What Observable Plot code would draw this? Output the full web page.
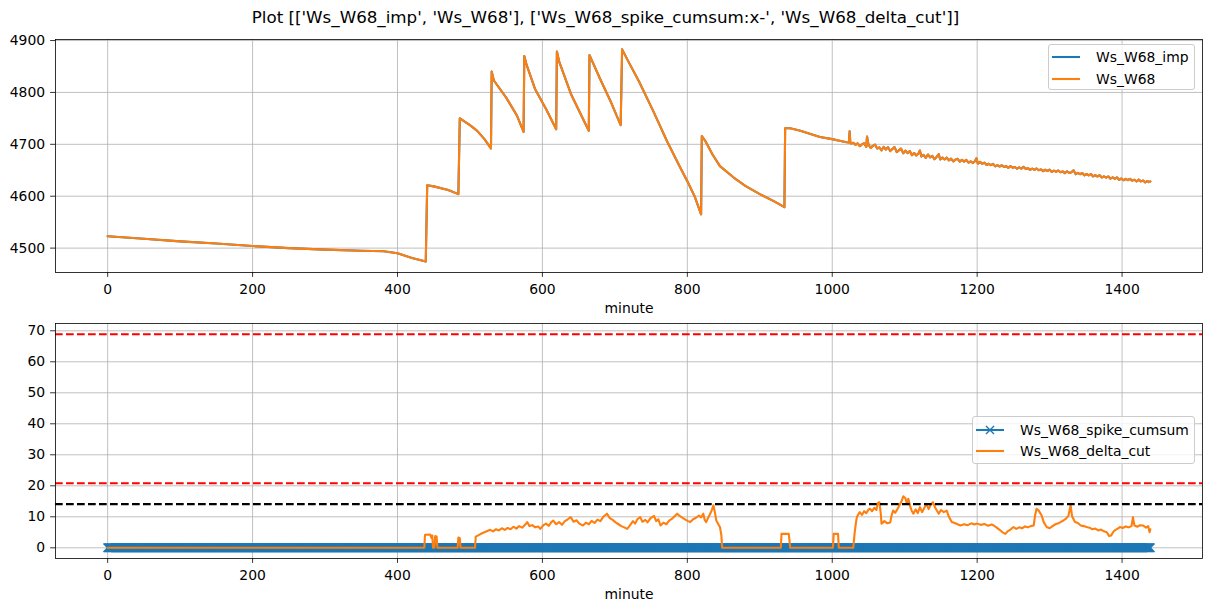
<!DOCTYPE html>
<html>
<head>
<meta charset="utf-8">
<script src="https://cdn.jsdelivr.net/npm/d3@7"></script>
<script src="https://cdn.jsdelivr.net/npm/@observablehq/plot@0.6"></script>
<style>
  html, body { margin: 0; padding: 0; background: white; }
  #fig { position: relative; width: 1211px; height: 611px; font-family: "DejaVu Sans", sans-serif; color: black; overflow: hidden; }
  #title { position: absolute; left: 0; top: 0; width: 1211px; height: 34px; line-height: 34px; text-align: center; font-size: 16.7px; }
  .panel { position: absolute; left: 0; }
  .legend { position: absolute; background: rgba(255,255,255,0.8); border: 1px solid #cccccc; border-radius: 3px; box-sizing: border-box; font-size: 13.9px; }
  .legend .row { position: absolute; left: 0; height: 20px; line-height: 20px; white-space: nowrap; }
  .legend .row span { position: absolute; left: 47px; top: 0; }
  .legend .row svg { position: absolute; left: 3px; top: 0; }
</style>
</head>
<body>
<div id="fig">
  <div id="title">Plot [['Ws_W68_imp', 'Ws_W68'], ['Ws_W68_spike_cumsum:x-', 'Ws_W68_delta_cut']]</div>
</div>
<script>
// ---------- data ----------
const xTicks = [0, 200, 400, 600, 800, 1000, 1200, 1400];
const topYTicks = [4500, 4600, 4700, 4800, 4900];
const bottomYTicks = [0, 10, 20, 30, 40, 50, 60, 70];

const topSeriesNames = ["Ws_W68_imp", "Ws_W68"];
const bottomSeriesNames = ["Ws_W68_spike_cumsum", "Ws_W68_delta_cut"];

// Ws_W68 (and identical Ws_W68_imp)
const wsMinutes = [0, 50, 100, 150, 200, 250, 300, 350, 381, 400, 420, 439,
  441, 450, 470, 484, 486, 500, 510, 520, 529, 530, 533, 550, 565, 574,
  575, 578, 590, 605, 619, 620, 623, 640, 664, 665, 680, 695, 708,
  710, 720, 733, 753, 772, 790, 800, 810, 819, 820, 825, 835, 845, 864, 880, 900, 920, 934,
  935, 942, 956, 983, 1000, 1010, 1020, 1023, 1024, 1025,
  1026, 1029, 1032, 1035, 1038, 1041, 1044, 1047, 1048, 1050, 1053, 1056, 1059, 1062, 1065, 1068,
  1071, 1074, 1077, 1080, 1083, 1086, 1089, 1092, 1095, 1098, 1101, 1104, 1107, 1110, 1113, 1116,
  1119, 1121, 1123, 1126, 1129, 1132, 1135, 1138, 1141, 1144, 1147, 1149, 1152, 1155, 1158, 1161,
  1164, 1167, 1170, 1173, 1176, 1179, 1182, 1185, 1188, 1191, 1194, 1197, 1199, 1201, 1204, 1207,
  1210, 1213, 1216, 1219, 1222, 1225, 1228, 1231, 1234, 1237, 1240, 1243, 1246, 1249, 1252, 1255,
  1258, 1261, 1264, 1267, 1270, 1273, 1276, 1279, 1282, 1285, 1288, 1291, 1294, 1297, 1300, 1303,
  1306, 1309, 1312, 1315, 1318, 1321, 1324, 1327, 1330, 1333, 1336, 1339, 1342, 1345, 1348, 1351,
  1354, 1357, 1360, 1363, 1366, 1369, 1372, 1375, 1378, 1381, 1384, 1387, 1390, 1393, 1396, 1399,
  1402, 1405, 1408, 1411, 1414, 1417, 1420, 1423, 1426, 1429, 1432, 1435, 1437, 1439];
const wsValues = [4523, 4518, 4513, 4509, 4504, 4500, 4497, 4495, 4494, 4490, 4481, 4474,
  4621, 4619, 4612, 4604, 4750, 4737, 4726, 4710, 4692, 4840, 4823, 4790, 4755, 4724,
  4870, 4854, 4806, 4768, 4729, 4879, 4860, 4795, 4726, 4872, 4825, 4780, 4737,
  4883, 4856, 4822, 4764, 4706, 4656, 4629, 4600, 4565, 4716, 4706, 4680, 4658, 4636, 4620, 4604, 4590, 4579,
  4731, 4731, 4726, 4714, 4710, 4707, 4704, 4703.5, 4725, 4703,
  4701.5, 4703, 4699, 4702, 4696.5, 4700, 4702, 4695, 4715, 4699.4, 4693, 4697, 4699.5, 4692, 4694, 4688.5,
  4695, 4690, 4694.5, 4687, 4691, 4694.6, 4685, 4688.3, 4691.7, 4682.8, 4688, 4683, 4687, 4679, 4683.3, 4678.4,
  4682.5, 4688, 4676.5, 4679.8, 4674, 4680.4, 4674.8, 4678, 4671.4, 4675.7, 4681, 4670.7, 4674.3, 4670.8, 4674.3, 4668.9,
  4672.4, 4667, 4670.5, 4672.1, 4666.6, 4670.2, 4666.7, 4670.2, 4664.8, 4667.3, 4663.9, 4667.4, 4673, 4662.8, 4666.1, 4662.5,
  4664.8, 4660.1, 4662.5, 4659.8, 4662.2, 4657.5, 4659.8, 4657.2, 4659.7, 4656.3, 4658, 4654.6, 4658.2, 4654.8, 4656.4, 4653,
  4655.6, 4653.2, 4656.8, 4652.4, 4654, 4650.7, 4653.3, 4650.9, 4653.5, 4650.1, 4651.7, 4648.3, 4651, 4648.6, 4651.2, 4646.8,
  4649.4, 4647, 4649.6, 4646.2, 4647.8, 4644.4, 4648.1, 4644.7, 4646.3, 4650, 4642.5, 4644.9, 4642.4, 4644.8, 4640.3, 4642.8,
  4640.2, 4642.7, 4638.1, 4640.6, 4638, 4640.5, 4636, 4638.4, 4635.9, 4638.3, 4633.8, 4636.2, 4633.7, 4636.2, 4631.6, 4634.1,
  4630.7, 4633.3, 4630.9, 4633.5, 4630.1, 4631.7, 4628.3, 4631.9, 4628.6, 4630.2, 4626.8, 4629.4, 4627.1, 4628.5];

// Ws_W68_delta_cut
const deltaMinutes = [0, 437, 438, 445, 447, 448, 449, 451, 452, 454, 455, 483, 484, 486, 487, 507,
  508, 512, 516, 520, 524, 528, 532, 536, 540, 544, 548, 552, 556, 560, 564, 568, 572, 576, 579, 582,
  586, 590, 594, 597, 601, 605, 609, 612, 615, 619, 623, 627, 631, 635, 639, 643, 647, 651, 656, 660,
  664, 668, 672, 676, 680, 684, 689, 693, 697, 701, 705, 709, 713, 717, 721, 725, 728, 731, 735, 738,
  742, 745, 749, 754, 757, 760, 763, 767, 771, 775, 779, 782, 786, 790, 794, 798, 801, 804, 808, 812,
  816, 819, 822, 824, 826, 829, 832, 834, 836, 838, 840, 843, 845, 847, 848,
  929, 930, 940, 942, 1001, 1002, 1008, 1009, 1029,
  1031, 1033, 1034, 1036, 1038, 1041, 1044, 1047, 1050, 1052, 1055, 1058, 1061, 1063, 1065, 1067, 1068,
  1072, 1076, 1080, 1082, 1084, 1087, 1090, 1093, 1096, 1098, 1101, 1103, 1105, 1108, 1110, 1112, 1115,
  1118, 1121, 1124, 1127, 1130, 1133, 1136, 1139, 1142, 1145, 1147, 1150, 1154, 1158, 1161, 1165, 1169,
  1173, 1177, 1182, 1187, 1192, 1196, 1200, 1205, 1210, 1215, 1220, 1223, 1227, 1231, 1235, 1239, 1242,
  1246, 1250, 1254, 1258, 1262, 1266, 1270, 1274, 1278, 1280, 1282, 1285, 1289, 1292, 1296, 1300, 1304,
  1308, 1312, 1315, 1319, 1323, 1326, 1329, 1331, 1335, 1339, 1343, 1347, 1351, 1355, 1359, 1363, 1367,
  1371, 1375, 1379, 1382, 1385, 1388, 1391, 1394, 1397, 1401, 1405, 1409, 1413, 1415, 1417, 1421, 1425,
  1429, 1433, 1436, 1438, 1439];
const deltaValues = [0, 0, 4.2, 4.3, 3.1, 4.0, 0, 0, 3.8, 3.6, 0, 0, 3.3, 3.1, 0, 0,
  3.6, 4.1, 4.6, 5.0, 5.4, 5.8, 5.3, 6.0, 5.6, 6.3, 5.8, 6.4, 6.0, 6.8, 6.2, 7.0, 6.5, 7.4, 8.3, 7.0,
  7.3, 6.6, 6.9, 6.1, 7.2, 7.8, 7.1, 8.2, 8.8, 7.6, 8.3, 7.4, 8.6, 9.2, 9.9, 8.4, 8.9, 7.8, 7.2, 8.1,
  7.6, 8.7, 8.0, 9.1, 8.6, 10.0, 11.0, 9.6, 9.0, 8.2, 7.6, 7.0, 6.6, 6.1, 7.3, 8.6, 7.8, 9.2, 9.9, 8.4,
  9.0, 8.2, 9.5, 10.3, 8.6, 9.2, 7.2, 8.1, 7.6, 8.8, 9.4, 10.1, 11.0, 10.2, 9.6, 9.0, 8.6, 8.3, 9.2, 9.7,
  10.4, 9.8, 11.0, 9.0, 8.3, 9.8, 11.2, 12.3, 13.7, 11.5, 8.8, 7.5, 6.7, 4.0, 0,
  0, 4.5, 4.5, 0, 0, 4.5, 4.5, 0, 0,
  5.0, 8.5, 9.9, 10.8, 11.5, 10.6, 11.8, 11.2, 12.3, 12.6, 11.8, 12.9, 12.2, 14.5, 14.7, 11.0, 7.8,
  8.6, 7.9, 8.2, 10.5, 12.0, 11.3, 12.5, 13.8, 15.2, 16.6, 16.0, 14.2, 15.8, 13.0, 11.8, 11.0, 12.4,
  11.2, 13.1, 11.5, 12.8, 14.2, 12.5, 13.9, 14.7, 13.0, 11.8, 11.0, 12.2, 11.5, 12.0, 10.0, 8.3, 8.0,
  7.6, 7.2, 7.6, 7.3, 7.9, 7.5, 7.8, 7.4, 7.7, 7.1, 7.5, 7.2, 6.5, 5.8, 5.0, 4.5, 5.3,
  5.9, 6.7, 6.1, 6.6, 6.3, 6.9, 6.6, 7.0, 7.2, 10.5, 12.6, 12.0, 10.4, 8.2, 6.7, 6.3, 7.0,
  7.6, 7.9, 8.3, 8.8, 9.5, 10.4, 13.7, 10.2, 8.3, 8.0, 7.2, 7.0, 6.7, 6.5, 6.0, 6.2, 5.6,
  5.9, 5.3, 5.0, 3.8, 4.0, 5.2, 5.8, 6.2, 6.7, 6.4, 6.9, 6.6, 7.0, 9.9, 7.2, 6.8, 7.3,
  7.2, 6.5, 7.0, 5.0, 6.0];

// Ws_W68_spike_cumsum: constant 0 over the whole sampled day (one sample per minute)
const spikeCumsumRange = [0, 1439];
const spikeCumsumValue = 0;

// horizontal threshold lines
const redThresholds = [68.9, 20.8];
const blackThresholds = [14.1];

// ---------- build ----------
const blue = "#1f77b4", orange = "#ff7f0e";
const wsData = wsMinutes.map((m, i) => ({minute: m, value: wsValues[i]}));
const deltaData = deltaMinutes.map((m, i) => ({minute: m, value: deltaValues[i]}));
const spikeData = d3.range(spikeCumsumRange[0], spikeCumsumRange[1] + 1).map(m => ({minute: m, value: spikeCumsumValue}));

const fmt = d => `${d}`;
const gridStyle = {stroke: "#b0b0b0", strokeOpacity: 1, strokeWidth: 0.8};
const baseStyle = {fontFamily: "DejaVu Sans, sans-serif", fontSize: "13.9px", color: "black", background: "white", overflow: "visible"};

function commonMarks(yTicks) {
  return {
    grids: [Plot.gridX(xTicks, gridStyle), Plot.gridY(yTicks, gridStyle)],
    axes: [
      Plot.frame({stroke: "black", strokeWidth: 0.8}),
      Plot.axisX(xTicks, {tickSize: 4.9, tickPadding: 7, tickFormat: fmt, label: null, strokeWidth: 0.8, fontSize: 13.9}),
      Plot.axisY(yTicks, {tickSize: 4.9, tickPadding: 5.5, tickFormat: fmt, label: null, strokeWidth: 0.8, fontSize: 13.9}),
      Plot.text(["minute"], {frameAnchor: "bottom", lineAnchor: "middle", dy: 36, fontSize: 13.9, fill: "black"})
    ]
  };
}

const topCommon = commonMarks(topYTicks);
const topPlot = Plot.plot({
  width: 1211, height: 287, marginLeft: 55, marginRight: 9, marginTop: 9, marginBottom: 45,
  style: baseStyle,
  x: {domain: [-72, 1511], label: null},
  y: {domain: [4453, 4902], label: null},
  marks: [
    ...topCommon.grids,
    Plot.line(wsData, {x: "minute", y: "value", stroke: blue, strokeWidth: 2.1}),
    Plot.line(wsData, {x: "minute", y: "value", stroke: orange, strokeWidth: 2.1}),
    ...topCommon.axes
  ]
});

const botCommon = commonMarks(bottomYTicks);
const bottomPlot = Plot.plot({
  width: 1211, height: 294, marginLeft: 55, marginRight: 9, marginTop: 6, marginBottom: 53,
  style: baseStyle,
  x: {domain: [-72, 1511], label: null},
  y: {domain: [-3.45, 72.35], label: null},
  marks: [
    ...botCommon.grids,
    Plot.line(spikeData, {x: "minute", y: "value", stroke: blue, strokeWidth: 2.1}),
    Plot.dot(spikeData, {x: "minute", y: "value", symbol: "times", r: 3.9, stroke: blue, strokeWidth: 1.4}),
    Plot.line(deltaData, {x: "minute", y: "value", stroke: orange, strokeWidth: 2.1}),
    Plot.ruleY(redThresholds, {stroke: "red", strokeWidth: 2.1, strokeDasharray: "7.7,3.3"}),
    Plot.ruleY(blackThresholds, {stroke: "black", strokeWidth: 2.1, strokeDasharray: "7.7,3.3"}),
    ...botCommon.axes
  ]
});

const fig = document.getElementById("fig");
function place(el, top) {
  const wrap = document.createElement("div");
  wrap.className = "panel";
  wrap.style.top = top + "px";
  wrap.appendChild(el);
  fig.appendChild(wrap);
}
place(topPlot, 30);
place(bottomPlot, 317);

function legend(left, top, width, height, entries) {
  const box = document.createElement("div");
  box.className = "legend";
  Object.assign(box.style, {left: left + "px", top: top + "px", width: width + "px", height: height + "px"});
  entries.forEach((e) => {
    const row = document.createElement("div");
    row.className = "row";
    row.style.top = (e.rowTop) + "px";
    row.style.width = width + "px";
    const ns = "http://www.w3.org/2000/svg";
    const s = document.createElementNS(ns, "svg");
    s.setAttribute("width", 30); s.setAttribute("height", 20);
    const ln = document.createElementNS(ns, "line");
    ln.setAttribute("x1", 0); ln.setAttribute("x2", 28); ln.setAttribute("y1", 10); ln.setAttribute("y2", 10);
    ln.setAttribute("stroke", e.color); ln.setAttribute("stroke-width", 2.1);
    s.appendChild(ln);
    if (e.marker) {
      const p = document.createElementNS(ns, "path");
      p.setAttribute("d", "M10,6L18,14M10,14L18,6");
      p.setAttribute("stroke", e.color); p.setAttribute("stroke-width", 1.4);
      s.appendChild(p);
    }
    row.appendChild(s);
    const t = document.createElement("span");
    t.textContent = e.label;
    row.appendChild(t);
    box.appendChild(row);
  });
  fig.appendChild(box);
}
legend(1048, 44, 147, 46, [
  {label: topSeriesNames[0], color: blue, rowTop: 2},
  {label: topSeriesNames[1], color: orange, rowTop: 23.5}
]);
legend(972, 416, 223, 48, [
  {label: bottomSeriesNames[0], color: blue, marker: true, rowTop: 3},
  {label: bottomSeriesNames[1], color: orange, rowTop: 24}
]);
</script>
</body>
</html>
